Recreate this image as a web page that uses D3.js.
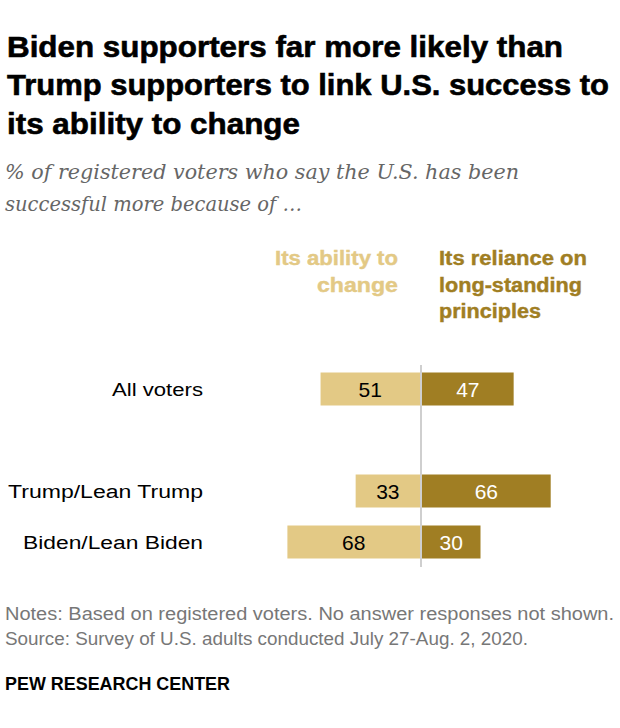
<!DOCTYPE html>
<html><head><meta charset="utf-8">
<script src="https://cdn.jsdelivr.net/npm/d3@7"></script>
<style>
html,body{margin:0;padding:0;background:#fff;}
svg{display:block;}
</style></head>
<body>
<svg id="chart" width="620" height="728"></svg>
<script>
const categories = ["All voters", "", "Trump/Lean Trump", "Biden/Lean Biden"];
const abilityToChange = [51, null, 33, 68];
const relianceOnPrinciples = [47, null, 66, 30];
const seriesNames = [["Its ability to", "change"], ["Its reliance on", "long-standing", "principles"]];
const titleLines = ["Biden supporters far more likely than", "Trump supporters to link U.S. success to", "its ability to change"];
const subtitleLines = ["% of registered voters who say the U.S. has been", "successful more because of …"];
const notes = ["Notes: Based on registered voters. No answer responses not shown.", "Source: Survey of U.S. adults conducted July 27-Aug. 2, 2020."];
const credit = "PEW RESEARCH CENTER";

const lightC = "#e3c985", darkC = "#a07e23";
const svg = d3.select("#chart");

function fitText(sel, w){ sel.attr("textLength", w).attr("lengthAdjust", "spacingAndGlyphs"); }

// Title
const titleW = [556, 602, 293];
const titleY = [57, 95, 134];
titleLines.forEach((t,i)=>{
  svg.append("text").attr("x",7).attr("y",titleY[i]).text(t)
    .attr("font-family","Liberation Sans, Arial, sans-serif").attr("font-weight","bold")
    .attr("font-size",30).attr("fill","#000").attr("stroke","#000").attr("stroke-width",0.6)
    .call(fitText, titleW[i]);
});
// Subtitle
const subW = [514, 297];
const subY = [179, 211];
subtitleLines.forEach((t,i)=>{
  svg.append("text").attr("x",5).attr("y",subY[i]).text(t)
    .attr("font-family","DejaVu Serif, Georgia, serif").attr("font-style","italic")
    .attr("font-size",21).attr("fill","#666").call(fitText, subW[i]);
});

// Scales
const cx = 421;
const xL = d3.scaleLinear().domain([0,100]).range([cx-1, cx-1-195]);
const xR = d3.scaleLinear().domain([0,100]).range([cx+1, cx+1+195]);
const y = d3.scalePoint().domain(categories).range([389, 542]);
const barH = 33;

// Legend headers
const legY = [265, 292, 318];
const legLW = [123, 81];
seriesNames[0].forEach((t,i)=>{
  svg.append("text").attr("x",398).attr("y",legY[i]).attr("text-anchor","end").text(t)
    .attr("font-family","Liberation Sans, Arial, sans-serif").attr("font-weight","bold")
    .attr("font-size",20).attr("fill",lightC).attr("stroke",lightC).attr("stroke-width",0.4)
    .call(fitText, legLW[i]);
});
const legRW = [148, 143, 102];
seriesNames[1].forEach((t,i)=>{
  svg.append("text").attr("x",439).attr("y",legY[i]).text(t)
    .attr("font-family","Liberation Sans, Arial, sans-serif").attr("font-weight","bold")
    .attr("font-size",20).attr("fill",darkC).attr("stroke",darkC).attr("stroke-width",0.4)
    .call(fitText, legRW[i]);
});

const rows = categories.map((c,i)=>({c, a:abilityToChange[i], r:relianceOnPrinciples[i]})).filter(d=>d.a!==null);

// Bars
svg.selectAll("rect.l").data(rows).join("rect").attr("class","l")
  .attr("x",d=>xL(d.a)).attr("width",d=>xL(0)-xL(d.a))
  .attr("y",d=>y(d.c)-barH/2).attr("height",barH).attr("fill",lightC);
svg.selectAll("rect.r").data(rows).join("rect").attr("class","r")
  .attr("x",xR(0)).attr("width",d=>xR(d.r)-xR(0))
  .attr("y",d=>y(d.c)-barH/2).attr("height",barH).attr("fill",darkC);

// Center line
svg.append("line").attr("x1",cx).attr("x2",cx).attr("y1",365).attr("y2",567)
  .attr("stroke","#cfcfcf").attr("stroke-width",2);

// Value labels
svg.selectAll("text.vl").data(rows).join("text").attr("class","vl")
  .attr("x",d=>(xL(d.a)+xL(0))/2).attr("y",d=>y(d.c)+7.5).attr("text-anchor","middle")
  .attr("font-family","Liberation Sans, Arial, sans-serif").attr("font-size",21).attr("fill","#000")
  .text(d=>d.a);
svg.selectAll("text.vr").data(rows).join("text").attr("class","vr")
  .attr("x",d=>(xR(d.r)+xR(0))/2).attr("y",d=>y(d.c)+7.5).attr("text-anchor","middle")
  .attr("font-family","Liberation Sans, Arial, sans-serif").attr("font-size",21).attr("fill","#fff")
  .text(d=>d.r);

// Category labels
const catW = {"All voters":91, "Trump/Lean Trump":195, "Biden/Lean Biden":180};
svg.selectAll("text.cat").data(rows).join("text").attr("class","cat")
  .attr("x",203).attr("y",d=>y(d.c)+6.5).attr("text-anchor","end")
  .attr("font-family","Liberation Sans, Arial, sans-serif").attr("font-size",18).attr("fill","#000")
  .text(d=>d.c).each(function(d){ d3.select(this).call(fitText, catW[d.c]); });

// Notes
const noteW = [609, 523];
const noteY = [620, 645];
notes.forEach((t,i)=>{
  svg.append("text").attr("x",5).attr("y",noteY[i]).text(t)
    .attr("font-family","Liberation Sans, Arial, sans-serif").attr("font-size",17.5).attr("fill","#777")
    .call(fitText, noteW[i]);
});
svg.append("text").attr("x",5).attr("y",690).text(credit)
  .attr("font-family","Liberation Sans, Arial, sans-serif").attr("font-weight","bold")
  .attr("font-size",17.5).attr("fill","#000").call(fitText, 225);
</script>
</body></html>
